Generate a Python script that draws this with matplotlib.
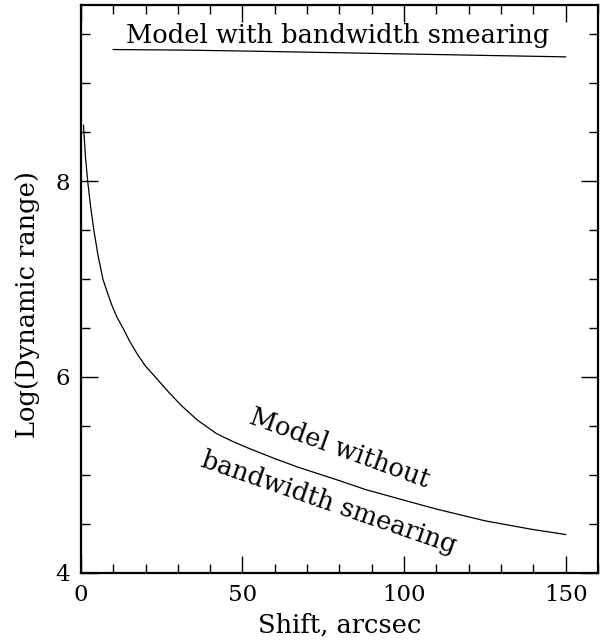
import numpy as np
import matplotlib
matplotlib.use('Agg')
import matplotlib.pyplot as plt
from matplotlib.ticker import MultipleLocator

# ------------------------------------------------------------
#  Data
# ------------------------------------------------------------
# model without bandwidth smearing
shift_no = [0.8, 1.4, 2.1, 3.0, 4.0, 5.3, 6.8, 8.0, 9.5, 11, 13, 15, 17.5,
            20, 23, 27, 31, 36, 42, 47, 52, 60, 67, 80, 88, 100, 110, 125,
            140, 150]
logdr_no = [8.57, 8.25, 8.0, 7.74, 7.5, 7.24, 7.0, 6.88, 6.74, 6.62, 6.5,
            6.37, 6.23, 6.11, 6.0, 5.85, 5.71, 5.56, 5.42, 5.34, 5.27,
            5.165, 5.08, 4.94, 4.85, 4.74, 4.65, 4.53, 4.44, 4.39]

# model with bandwidth smearing
shift_bw = [10, 30, 50, 75, 100, 125, 150]
logdr_bw = [9.345, 9.34, 9.33, 9.315, 9.30, 9.285, 9.27]

plt.rcParams['font.family'] = ['DejaVu Serif']
FS_TICK = 16.5
FS_TEXT = 18.5

fig = plt.figure(figsize=(6.13, 6.41), dpi=100)
ax = fig.add_axes([0.132, 0.1066, 0.8435, 0.8856])

ax.plot(shift_no, logdr_no, color='black', linewidth=0.9)
ax.plot(shift_bw, logdr_bw, color='black', linewidth=0.9)

ax.set_xlim(0, 160)
ax.set_ylim(4, 9.8)

ax.xaxis.set_major_locator(MultipleLocator(50))
ax.xaxis.set_minor_locator(MultipleLocator(10))
ax.yaxis.set_major_locator(MultipleLocator(2))
ax.yaxis.set_minor_locator(MultipleLocator(0.5))

ax.tick_params(which='both', direction='in', top=True, right=True,
               width=1.0, labelsize=FS_TICK, color='black')
ax.tick_params(which='major', length=12, pad=8)
ax.tick_params(which='minor', length=6.5)
for s in ax.spines.values():
    s.set_linewidth(1.6)

ax.set_xlabel('Shift, arcsec', fontsize=FS_TEXT, labelpad=5)
ax.set_ylabel('Log(Dynamic range)', fontsize=FS_TEXT)
ax.yaxis.set_label_coords(-0.08, 0.473)

ax.text(79.5, 9.49, 'Model with bandwidth smearing', fontsize=FS_TEXT,
        ha='center', va='center')
ax.text(80, 5.27, 'Model without', fontsize=FS_TEXT, ha='center',
        va='center', rotation=-20, rotation_mode='anchor')
ax.text(76.6, 4.71, 'bandwidth smearing', fontsize=FS_TEXT, ha='center',
        va='center', rotation=-19, rotation_mode='anchor')

plt.savefig('out.png', dpi=100)
